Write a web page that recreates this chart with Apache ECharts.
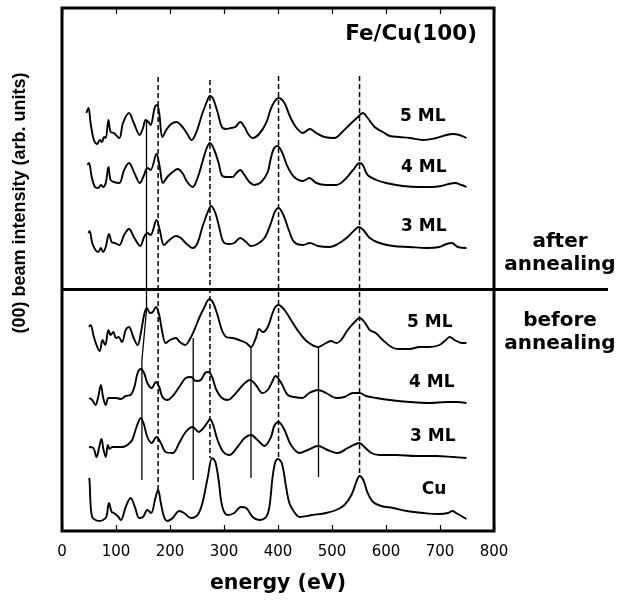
<!DOCTYPE html>
<html>
<head>
<meta charset="utf-8">
<script src="https://cdn.jsdelivr.net/npm/echarts/dist/echarts.min.js"></script>
<style>
  html, body { margin: 0; padding: 0; background: #fff; }
  #chart { width: 623px; height: 616px; }
</style>
</head>
<body>
<div id="chart"></div>
<script>
// energy axis ticks
const energyTicks = [0, 100, 200, 300, 400, 500, 600, 700, 800];

// curves: [energy (eV), intensity (arb. units, stacked offset)]
// after annealing
const after5ML = [[45,419],[49,424],[53,409],[59,392],[65,388],[70,392],[74,390],[78,395],[81,394],[86,412],[90,400],[96,399],[106,394],[113,409],[124,419],[133,409],[144,397],[150,404],[155,412],[160,410],[164,407],[172,425],[176,427],[180,419],[186,395],[193,402],[202,408],[212,410],[220,407],[231,399],[240,392],[249,400],[259,417],[268,430],[274,436],[280,433],[288,420],[296,405],[304,403],[313,404],[321,405],[330,410],[338,405],[346,397],[353,394],[365,398],[378,409],[386,422],[393,430],[401,434],[412,429],[421,417],[433,405],[446,399],[459,403],[471,399],[486,395],[505,394],[517,399],[532,407],[548,415],[557,419],[566,414],[579,405],[594,400],[607,396],[625,395],[644,394],[668,392],[693,394],[712,397],[724,398],[736,397],[749,394]];
const after4ML = [[47,367],[50,369],[55,355],[61,345],[67,344],[72,347],[76,345],[81,349],[86,365],[90,352],[96,350],[106,349],[115,362],[124,369],[134,359],[144,349],[152,357],[158,364],[164,362],[175,378],[181,365],[187,349],[195,355],[205,360],[214,363],[223,359],[232,350],[242,345],[251,354],[260,370],[268,384],[274,389],[282,382],[290,369],[297,356],[307,355],[316,355],[323,359],[330,362],[338,357],[347,350],[356,347],[369,350],[381,360],[386,372],[392,383],[399,386],[408,379],[418,365],[430,355],[446,351],[458,354],[471,349],[489,347],[508,347],[523,352],[539,362],[551,369],[557,367],[566,357],[582,352],[600,349],[631,346],[662,345],[685,345],[702,346],[716,348],[728,349],[740,347],[749,345]];
const after3ML = [[49,299],[51,301],[56,289],[62,282],[67,280],[72,284],[76,280],[81,285],[87,298],[92,290],[98,289],[106,287],[115,297],[124,303],[134,294],[145,286],[152,295],[158,299],[164,297],[175,312],[181,302],[189,287],[199,292],[211,296],[220,294],[229,289],[242,284],[251,289],[260,305],[270,320],[276,326],[284,319],[291,305],[299,290],[310,288],[319,289],[330,294],[341,290],[350,286],[362,288],[375,294],[387,309],[394,320],[401,324],[410,317],[420,302],[430,290],[446,287],[459,289],[474,286],[495,285],[514,289],[529,295],[542,302],[550,305],[558,302],[570,294],[588,289],[613,286],[644,285],[675,284],[699,285],[712,288],[722,289],[733,285],[749,284]];
// before annealing
const before5ML = [[50,205],[53,207],[59,195],[66,184],[70,181],[75,192],[80,187],[86,202],[90,197],[95,200],[100,194],[105,195],[111,190],[118,202],[124,205],[132,195],[140,187],[146,199],[152,217],[157,224],[163,219],[168,220],[174,225],[180,217],[186,199],[192,189],[200,192],[211,194],[218,190],[228,187],[236,192],[245,202],[254,214],[263,224],[273,233],[280,229],[288,217],[296,202],[304,195],[316,194],[328,192],[341,189],[350,185],[359,194],[365,203],[372,200],[381,205],[390,219],[395,225],[401,227],[412,222],[424,212],[440,199],[455,190],[474,185],[486,188],[498,191],[508,189],[517,192],[529,202],[542,210],[551,214],[560,210],[570,202],[581,199],[594,192],[610,185],[622,183],[644,183],[662,185],[681,185],[699,187],[711,192],[718,195],[727,192],[740,189],[749,189]];
const before4ML = [[50,134],[56,132],[62,127],[67,135],[72,147],[76,135],[81,127],[86,134],[92,134],[100,134],[109,133],[118,136],[127,137],[134,145],[140,159],[146,163],[152,159],[158,149],[166,144],[174,150],[180,145],[186,135],[195,132],[205,136],[217,145],[229,154],[239,155],[248,151],[257,152],[265,159],[271,160],[278,155],[286,142],[296,134],[307,132],[319,137],[335,147],[348,152],[359,147],[371,139],[381,142],[390,151],[395,156],[406,149],[418,137],[430,135],[445,134],[458,139],[474,142],[489,139],[508,134],[523,135],[539,139],[551,139],[563,136],[582,134],[607,132],[644,130],[681,129],[712,130],[730,130],[749,129]];
const before3ML = [[50,85],[58,84],[64,75],[69,85],[73,93],[77,82],[81,75],[85,87],[88,83],[93,85],[103,85],[112,85],[121,87],[130,92],[138,105],[146,114],[152,107],[158,95],[166,89],[175,95],[183,89],[192,80],[205,79],[217,89],[229,100],[242,105],[253,100],[262,104],[270,110],[274,113],[280,107],[288,92],[299,80],[310,77],[325,85],[338,94],[350,97],[362,92],[375,86],[387,95],[393,106],[401,110],[412,102],[424,87],[440,79],[455,82],[474,86],[492,82],[511,79],[529,84],[544,88],[551,89],[560,85],[573,79],[588,77],[619,77],[656,76],[693,76],[724,75],[749,74]];
const cuClean = [[50,54],[51,52],[53,27],[56,15],[62,12],[69,11],[76,12],[82,15],[87,29],[92,20],[96,19],[103,16],[109,12],[118,25],[127,34],[135,25],[143,14],[150,15],[158,22],[165,19],[173,34],[178,42],[183,29],[189,15],[195,11],[205,14],[217,21],[226,19],[239,14],[251,17],[260,29],[270,55],[278,74],[284,70],[290,52],[297,25],[307,17],[319,19],[331,25],[341,24],[353,15],[365,12],[378,15],[384,25],[390,55],[395,70],[400,73],[407,69],[415,45],[421,29],[430,20],[440,15],[464,17],[489,19],[508,22],[523,27],[536,37],[545,50],[551,56],[558,52],[566,39],[576,30],[591,26],[613,24],[638,21],[669,19],[699,18],[715,19],[723,21],[730,19],[749,13]];

// dashed guide lines (Cu peaks): [energy, top, bottom]
const dashedGuides = [[178, 455, 42], [274, 452, 74], [401, 456, 72], [551, 456, 57]];
// solid guide lines
const solidGuides = [
  [[156.5, 412], [156.5, 222], [148, 172], [148, 52]],
  [[243, 194], [243, 52]],
  [[350, 185], [350, 54]],
  [[475, 185], [475, 55]]
];

const curves = [after5ML, after4ML, after3ML, before5ML, before4ML, before3ML, cuClean];
const curveLabels = ['5 ML', '4 ML', '3 ML', '5 ML', '4 ML', '3 ML', 'Cu'];

const chart = echarts.init(document.getElementById('chart'));

const series = [];
curves.forEach((d, i) => {
  series.push({
    type: 'line',
    name: curveLabels[i],
    data: d,
    xAxisIndex: 0,
    showSymbol: false,
    smooth: 0.35,
    lineStyle: { color: '#000', width: 1.9 },
    silent: true
  });
});
dashedGuides.forEach(g => {
  series.push({
    type: 'line',
    data: [[g[0], g[1]], [g[0], g[2]]],
    showSymbol: false,
    lineStyle: { color: '#000', width: 1.5, type: [5, 3] },
    silent: true
  });
});
solidGuides.forEach(g => {
  series.push({
    type: 'line',
    data: g,
    showSymbol: false,
    lineStyle: { color: '#000', width: 1.3 },
    silent: true
  });
});

const bold = 'bold';
const labelFont = 'DejaVu Sans';

const option = {
  animation: false,
  backgroundColor: '#fff',
  grid: {
    left: 62,
    right: 129,
    top: 8,
    bottom: 85,
    show: true,
    borderColor: '#000',
    borderWidth: 3
  },
  xAxis: [
    {
      type: 'value',
      position: 'bottom',
      min: 0,
      max: 800,
      interval: 100,
      axisLine: { show: false },
      axisTick: { show: true, inside: true, length: 6, lineStyle: { color: '#000', width: 1.2 } },
      axisLabel: { color: '#000', fontFamily: labelFont, fontSize: 15, margin: 14 },
      splitLine: { show: false },
      name: 'energy (eV)',
      nameLocation: 'middle',
      nameGap: 42,
      nameTextStyle: { color: '#000', fontFamily: labelFont, fontWeight: bold, fontSize: 20.5 }
    },
    {
      type: 'value',
      position: 'top',
      min: 0,
      max: 800,
      interval: 100,
      axisLine: { show: false },
      axisTick: { show: true, inside: true, length: 6, lineStyle: { color: '#000', width: 1.2 } },
      axisLabel: { show: false },
      splitLine: { show: false }
    }
  ],
  yAxis: {
    type: 'value',
    min: 1,
    max: 524,
    show: false
  },
  series: series,
  graphic: [
    {
      type: 'line',
      shape: { x1: 62, y1: 289.5, x2: 608, y2: 289.5 },
      style: { stroke: '#000', lineWidth: 3 }
    },
    {
      type: 'text', x: 477, y: 34,
      style: { text: 'Fe/Cu(100)', fill: '#000', fontFamily: labelFont, fontWeight: bold, fontSize: 21.5, align: 'right', verticalAlign: 'middle' }
    },
    {
      type: 'text', x: 560, y: 253,
      style: { text: 'after\nannealing', fill: '#000', fontFamily: labelFont, fontWeight: bold, fontSize: 20, lineHeight: 23, align: 'center', verticalAlign: 'middle' }
    },
    {
      type: 'text', x: 560, y: 332,
      style: { text: 'before\nannealing', fill: '#000', fontFamily: labelFont, fontWeight: bold, fontSize: 20, lineHeight: 23, align: 'center', verticalAlign: 'middle' }
    },
    {
      type: 'text', x: 20, y: 203, rotation: Math.PI / 2,
      style: { text: '(00) beam intensity (arb. units)', fill: '#000', fontFamily: 'Liberation Sans', fontWeight: bold, fontSize: 18, align: 'center', verticalAlign: 'middle' }
    },
    { type: 'text', x: 400, y: 117, style: { text: curveLabels[0], fill: '#000', fontFamily: labelFont, fontWeight: bold, fontSize: 17, verticalAlign: 'middle' } },
    { type: 'text', x: 401, y: 168, style: { text: curveLabels[1], fill: '#000', fontFamily: labelFont, fontWeight: bold, fontSize: 17, verticalAlign: 'middle' } },
    { type: 'text', x: 401, y: 227, style: { text: curveLabels[2], fill: '#000', fontFamily: labelFont, fontWeight: bold, fontSize: 17, verticalAlign: 'middle' } },
    { type: 'text', x: 407, y: 323, style: { text: curveLabels[3], fill: '#000', fontFamily: labelFont, fontWeight: bold, fontSize: 17, verticalAlign: 'middle' } },
    { type: 'text', x: 409, y: 383, style: { text: curveLabels[4], fill: '#000', fontFamily: labelFont, fontWeight: bold, fontSize: 17, verticalAlign: 'middle' } },
    { type: 'text', x: 410, y: 437, style: { text: curveLabels[5], fill: '#000', fontFamily: labelFont, fontWeight: bold, fontSize: 17, verticalAlign: 'middle' } },
    { type: 'text', x: 434, y: 490, style: { text: curveLabels[6], fill: '#000', fontFamily: labelFont, fontWeight: bold, fontSize: 17, align: 'center', verticalAlign: 'middle' } }
  ]
};

chart.setOption(option);
</script>
</body>
</html>
